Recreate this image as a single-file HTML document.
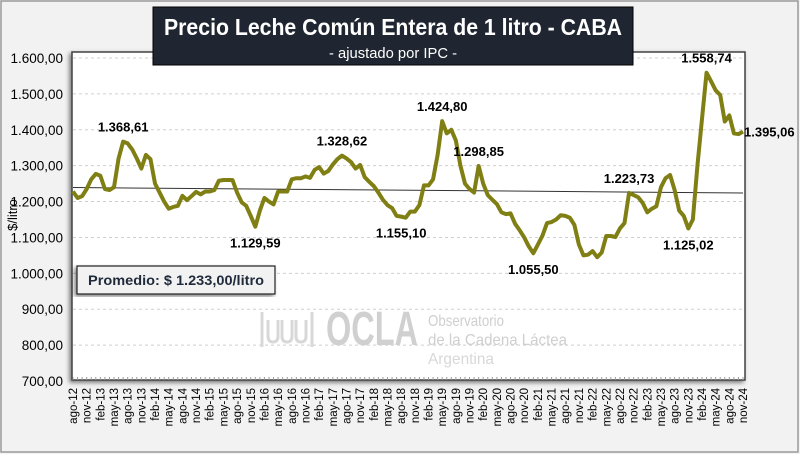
<!DOCTYPE html>
<html><head><meta charset="utf-8">
<style>
html,body{margin:0;padding:0;background:#f2f2f2;}
body{width:800px;height:454px;overflow:hidden;font-family:"Liberation Sans",sans-serif;}
</style></head>
<body>
<svg id="chart" width="800" height="454" xmlns="http://www.w3.org/2000/svg" font-family="Liberation Sans, sans-serif" style="display:block">
  <defs>
    <filter id="sh" x="-5%" y="-5%" width="110%" height="115%"><feDropShadow dx="-2" dy="2" stdDeviation="2" flood-color="#000" flood-opacity="0.5"/></filter>
  </defs>
  <rect x="1" y="1" width="797" height="451" fill="#f2f2f2" stroke="#9a9a9a" stroke-width="1.5"/>
  <rect x="72" y="52" width="673" height="328" fill="#fff" stroke="#404040" stroke-width="1.5" filter="url(#sh)"/>
  <g id="grid"></g>
  <g id="watermark" fill="#d2d2d2">
    <path d="M262 312 v35 M268 320 v16 q0 6 5 6 q5 0 5 -6 v-16 M282 320 v16 q0 6 5 6 q5 0 5 -6 v-16 M296 320 v16 q0 6 5 6 q5 0 5 -6 v-16 M312 312 v35" stroke="#d8d8d8" stroke-width="3" fill="none"/>
    <text x="326" y="345" font-size="48" font-weight="bold" fill="#d0d0d0" textLength="92" lengthAdjust="spacingAndGlyphs">OCLA</text>
    <text x="428" y="326" font-size="16" fill="#cfcfcf" textLength="76" lengthAdjust="spacingAndGlyphs">Observatorio</text>
    <text x="428" y="345" font-size="16" fill="#cfcfcf" textLength="139" lengthAdjust="spacingAndGlyphs">de la Cadena Láctea</text>
    <text x="428" y="364" font-size="16" fill="#d8d8d8" textLength="66" lengthAdjust="spacingAndGlyphs">Argentina</text>
  </g>
  <g id="yaxis"></g>
  <g id="xaxis"></g>
  <text transform="translate(17,215) rotate(-90)" text-anchor="middle" font-size="13" fill="#000">$/litro</text>
  <g id="series"></g>
  <g id="labels" font-size="13" font-weight="bold" fill="#000"></g>
  <g>
    <rect x="77" y="266" width="198" height="28" fill="#f2f2f2" stroke="#222" stroke-width="1.2" filter="url(#sh)"/>
    <text x="176" y="285" text-anchor="middle" font-size="14" font-weight="bold" fill="#1f2a3a" textLength="176" lengthAdjust="spacingAndGlyphs">Promedio: $ 1.233,00/litro</text>
  </g>
  <g>
    <rect x="153" y="7" width="480" height="58" fill="#1f2631" stroke="#000"/>
    <text x="393" y="35" text-anchor="middle" font-size="23" font-weight="bold" fill="#fff" textLength="458" lengthAdjust="spacingAndGlyphs">Precio Leche Común Entera de 1 litro - CABA</text>
    <text x="393" y="58" text-anchor="middle" font-size="15" fill="#fff" textLength="128" lengthAdjust="spacingAndGlyphs">- ajustado por IPC -</text>
  </g>
</svg>
<script>
const prices = [1228,1210,1215,1235,1262,1277,1272,1235,1232,1240,1320,1367,1362,1345,1320,1292,1330,1318,1250,1225,1200,1180,1185,1188,1216,1204,1215,1227,1220,1228,1228,1232,1258,1260,1260,1260,1225,1198,1188,1160,1130,1175,1210,1200,1192,1228,1228,1228,1262,1265,1265,1270,1266,1288,1296,1278,1285,1303,1318,1328,1320,1310,1292,1302,1268,1255,1243,1225,1205,1190,1182,1160,
1158,1155,1172,1172,1190,1245,1245,1262,1330,1424,1390,1400,1370,1300,1250,1235,1225,1299,1250,1218,1205,1193,1170,1165,1167,1138,1120,1100,1075,1056,1080,1105,1140,1143,1150,1162,1160,1155,1135,1080,1050,1052,1062,1045,1058,1104,1104,1101,1125,1140,1224,1218,1212,1196,1170,1180,1187,1240,1265,1274,1232,1175,1160,1125,1150,1300,1430,1559,1535,1510,1497,1423,1440,1390,1388,1395];
const monthNames = ['ago','nov','feb','may'];
const yTicks = [700,800,900,1000,1100,1200,1300,1400,1500,1600];
const trendStart = 1239;
const trendEnd = 1224;
const annotIdx = [11,40,59,72,81,89,101,122,135,139,147];
const annotText = ['1.368,61','1.129,59','1.328,62','1.155,10','1.424,80','1.298,85','1.055,50','1.223,73','1.125,02','1.558,74','1.395,06'];
const annotPos = ['a','b','a','b','a','a','b','a','b','a','r'];

const NS='http://www.w3.org/2000/svg';
const X0=73, X1=743, Y0=381, Y1=58, V0=700, V1=1600;
const n=prices.length;
const xs=i=>X0+(X1-X0)*i/(n-1);
const ys=v=>Y0-(Y0-Y1)*(v-V0)/(V1-V0);
function mk(tag,attrs,parent){const e=document.createElementNS(NS,tag);for(const k in attrs)e.setAttribute(k,attrs[k]);parent.appendChild(e);return e;}
const fmt=v=>v.toLocaleString('de-DE',{minimumFractionDigits:2,maximumFractionDigits:2}).replace(/\u00a0/g,'');
const grid=document.getElementById('grid'), ya=document.getElementById('yaxis'), xa=document.getElementById('xaxis');
yTicks.forEach(t=>{
  if(t>V0){const g=mk('line',{x1:73,x2:744,y1:ys(t),y2:ys(t),stroke:'#cfcfcf','stroke-dasharray':'3,3'},grid);
  
  }
  const tx=mk('text',{x:63,y:ys(t)+5,'text-anchor':'end','font-size':'13.5',fill:'#000'},ya);
  
  
  tx.textContent=fmt(t);
});
for(let i=0;i<n;i++){
  const tk=mk('line',{x1:xs(i),x2:xs(i),y1:380,y2:377,stroke:'#999'},xa);
  
  
  if(i%3===0){
    const k=i/3; const m=monthNames[k%4];
    const absMonth=7+i; const year=12+Math.floor(absMonth/12);
    const t=mk('text',{transform:`translate(${xs(i)+4},388) rotate(-90)`,'text-anchor':'end','font-size':'11.5',fill:'#000'},xa);
    
    
    t.textContent=m+'-'+year;
  }
}
const s=document.getElementById('series');
const tl=mk('line',{x1:xs(0),x2:xs(n-1),y1:ys(trendStart),y2:ys(trendEnd),stroke:'#333','stroke-width':1},s);


const p=mk('polyline',{points:prices.map((v,i)=>xs(i)+','+ys(v)).join(' '),fill:'none',stroke:'#7f7f14','stroke-width':4,'stroke-linejoin':'round'},s);


const L=document.getElementById('labels');
annotIdx.forEach((idx,j)=>{
  const x=xs(idx), y=ys(prices[idx]); let a={x:x,y:y-10,'text-anchor':'middle'};
  if(annotPos[j]==='b') a.y=y+21;
  if(annotPos[j]==='r'){a.x=x+1;a.y=y+5;a['text-anchor']='start';}
  const t=mk('text',a,L);
  
  
  t.textContent=annotText[j];
});
</script>
</body></html>
